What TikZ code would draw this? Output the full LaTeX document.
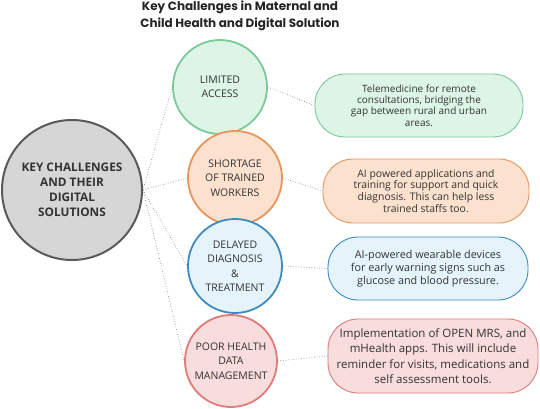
\documentclass[tikz,border=0pt]{standalone}
\usepackage{fontspec}
\setmainfont{Open Sans}
\newfontfamily\titlefont{Poppins}
\usetikzlibrary{positioning}
\definecolor{txtgray}{HTML}{333333}
\definecolor{linkgray}{HTML}{6E6E6E}
\definecolor{keyfill}{HTML}{D6D6D6}
\definecolor{keyline}{HTML}{5A5A5A}
\definecolor{greenfill}{HTML}{DDF5E7}
\definecolor{greenline}{HTML}{7CC89A}
\definecolor{orangefill}{HTML}{FBE1CE}
\definecolor{orangeline}{HTML}{E8955A}
\definecolor{bluefill}{HTML}{E4F4FA}
\definecolor{blueline}{HTML}{3F8AC0}
\definecolor{redfill}{HTML}{F9DCDC}
\definecolor{redline}{HTML}{E07B7B}
\tikzset{
	challenge/.style={
		circle,
		draw,
		line width=1.8pt,
		inner sep=0pt,
		minimum size=94pt,
		align=center,
		text=txtgray,
		font={\fontsize{10.5}{14.5}\selectfont}
	},
	solution/.style={
		rectangle,
		draw,
		line width=0.9pt,
		rounded corners=30pt,
		inner sep=0pt,
		align=center,
		text=txtgray,
		font={\fontsize{10}{11.4}\selectfont}
	},
	link/.style={
		draw=linkgray,
		dotted,
		line width=0.6pt
	}
}

\begin{document}
\begin{tikzpicture}[x=1pt,y=-1pt]
\useasboundingbox[fill=white] (0,0) rectangle (540,409);

\node(title) at (240,16) [align=center, text=black!85, font={\titlefont\bfseries\fontsize{12}{17}\selectfont}]
	{Key Challenges in Maternal and\\Child Health and Digital Solution};

\node(key)[challenge, minimum size=140pt, fill=keyfill, draw=keyline, line width=2pt,
	font={\bfseries\fontsize{11.8}{15}\selectfont}] at (72,190)
	{KEY CHALLENGES\\AND THEIR\\DIGITAL\\SOLUTIONS};

\node(access)[challenge, fill=greenfill, draw=greenline] at (220,87) {LIMITED\\ACCESS};
\node(short)[challenge, fill=orangefill, draw=orangeline] at (235,178) {SHORTAGE\\OF TRAINED\\WORKERS};
\node(delay)[challenge, fill=bluefill, draw=blueline] at (235,266) {DELAYED\\DIAGNOSIS\\\&\\TREATMENT};
\node(poor)[challenge, fill=redfill, draw=redline, minimum size=92pt] at (231,361) {POOR HEALTH\\DATA\\MANAGEMENT};

\node(accesssol)[solution, fill=greenfill, draw=greenline, minimum width=208pt, minimum height=63pt] at (419,105.5)
	{Telemedicine for remote\\consultations, bridging the\\gap between rural and urban\\areas.};
\node(shortsol)[solution, fill=orangefill, draw=orangeline, minimum width=206pt, minimum height=64pt,
	font={\fontsize{10.4}{11.9}\selectfont}] at (426,191)
	{AI powered applications and\\training for support and quick\\diagnosis. This can help less\\trained staffs too.};
\node(delaysol)[solution, fill=bluefill, draw=blueline, minimum width=200pt, minimum height=63pt,
	font={\fontsize{10.8}{13.3}\selectfont}] at (428,268.5)
	{AI-powered wearable devices\\for early warning signs such as\\glucose and blood pressure.};
\node(poorsol)[solution, fill=redfill, draw=redline, minimum width=210pt, minimum height=74pt,
	font={\fontsize{11.5}{15.5}\selectfont}] at (433,356)
	{Implementation of OPEN MRS, and\\mHealth apps. This will include\\reminder for visits, medications and\\self assessment tools.};

\draw[link] (key.east) -- (access.west);
\draw[link] (key.east) -- (short.west);
\draw[link] (key.east) -- (delay.west);
\draw[link] (key.east) -- (poor.west);

\draw[link] (access.east) -- (accesssol.west);
\draw[link] (short.east) -- (shortsol.west);
\draw[link] (delay.east) -- (delaysol.west);
\draw[link] (poor.east) -- (poorsol.west);
\end{tikzpicture}
\end{document}
